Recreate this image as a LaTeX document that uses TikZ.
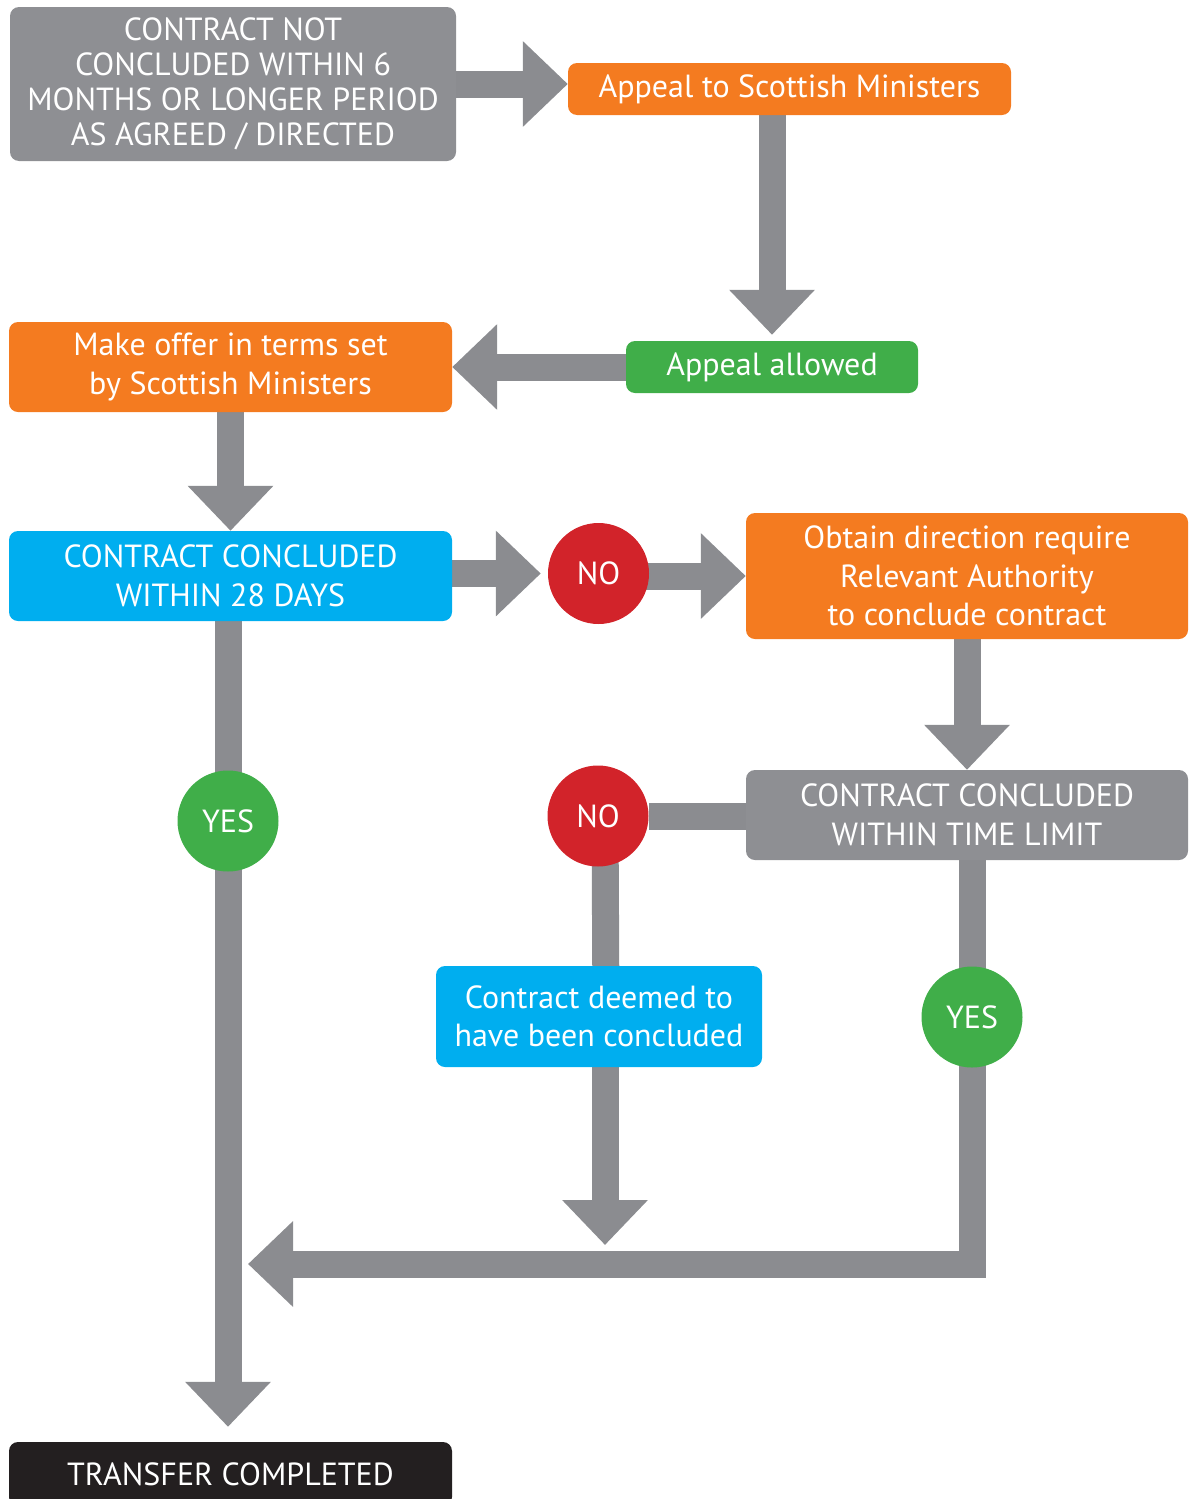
\documentclass[tikz,border=0pt]{standalone}
\usepackage{fontspec}
\setmainfont{PT Sans}
\usetikzlibrary{arrows.meta,backgrounds}
\definecolor{arrowgray}{HTML}{8B8C90}
\definecolor{boxgray}{HTML}{8E8F93}
\definecolor{orng}{HTML}{F47B20}
\definecolor{grn}{HTML}{40AE49}
\definecolor{blu}{HTML}{00AEEF}
\definecolor{rd}{HTML}{D2232A}
\definecolor{blk}{HTML}{231F20}
\begin{document}
\begin{tikzpicture}[x=1pt,y=-1pt,
  box/.style={rounded corners=9pt, text=white, align=center, inner sep=0pt,
    font=\fontsize{32}{38.5}\selectfont},
  circ/.style={circle, minimum size=101pt, inner sep=0pt, text=white,
    font=\fontsize{32}{36}\selectfont},
  fat/.style={draw=arrowgray, line width=27pt, line join=miter,
    -{Triangle[width=83pt,length=45pt]}},
  bar/.style={draw=arrowgray, line width=27pt}]
\useasboundingbox (0,0) rectangle (1189,1499);
\clip (0,0) rectangle (1189,1499);
% nodes
\node[box, fill=boxgray, minimum width=446pt, minimum height=154pt,
  font=\fontsize{32}{35}\selectfont] (b1) at (233,84)
  {CONTRACT NOT\\CONCLUDED WITHIN 6\\MONTHS OR LONGER PERIOD\\AS AGREED / DIRECTED};
\node[box, fill=orng, minimum width=443pt, minimum height=52pt] (appeal) at (789.5,89)
  {Appeal to Scottish Ministers};
\node[box, fill=grn, minimum width=292pt, minimum height=52pt] (allowed) at (772,367)
  {Appeal allowed};
\node[box, fill=orng, minimum width=443pt, minimum height=90pt] (offer) at (230.5,367)
  {Make offer in terms set\\by Scottish Ministers};
\node[box, fill=blu, minimum width=443pt, minimum height=90pt] (c28) at (230.5,576)
  {CONTRACT CONCLUDED\\WITHIN 28 DAYS};
\node[circ, fill=rd] (no1) at (598.5,573.5) {NO};
\node[box, fill=orng, minimum width=442pt, minimum height=126pt] (obtain) at (967,576)
  {Obtain direction require\\Relevant Authority\\to conclude contract};
\node[box, fill=boxgray, minimum width=442pt, minimum height=90pt] (tl) at (967,815)
  {CONTRACT CONCLUDED\\WITHIN TIME LIMIT};
\node[circ, fill=rd] (no2) at (598,816) {NO};
\node[circ, fill=grn] (yes1) at (228,821) {YES};
\node[box, fill=blu, minimum width=326pt, minimum height=101pt] (deemed) at (599,1016.5)
  {Contract deemed to\\have been concluded};
\node[circ, fill=grn] (yes2) at (972,1017) {YES};
\node[box, fill=blk, minimum width=443pt, minimum height=64pt] (transfer) at (230.5,1474)
  {TRANSFER COMPLETED};
\coordinate (dtip) at (605,1245);
\coordinate (ltip) at (248,1264);
% connectors
\begin{scope}[on background layer]
\draw[fat] (b1.east) -- (b1.east -| appeal.west);
\draw[fat, shorten >=6pt] (allowed.north |- appeal.south) -- (allowed.north);
\draw[fat] (allowed.west) -- (offer.east);
\draw[fat] (offer.south) -- (c28.north);
\draw[fat] (c28.east |- no1) -- ([xshift=-7pt]no1.west);
\draw[fat] (obtain.west -| no1) -- (obtain.west);
\draw[fat] (obtain.south) -- (obtain.south |- tl.north);
\draw[bar] (tl.west |- no2) -- (no2);
\draw[bar] ([xshift=7pt]no2.center) -- ([xshift=7pt]deemed.center);
\draw[fat] ([xshift=6pt]deemed.south) -- (dtip);
\draw[fat] (yes2 |- tl.south) -- (yes2.center) -- (yes2 |- ltip) -- (ltip);
\draw[fat, shorten >=15pt] (yes1 |- c28.south) -- (yes1.center) -- (yes1 |- transfer.north);
\end{scope}
\end{tikzpicture}
\end{document}
